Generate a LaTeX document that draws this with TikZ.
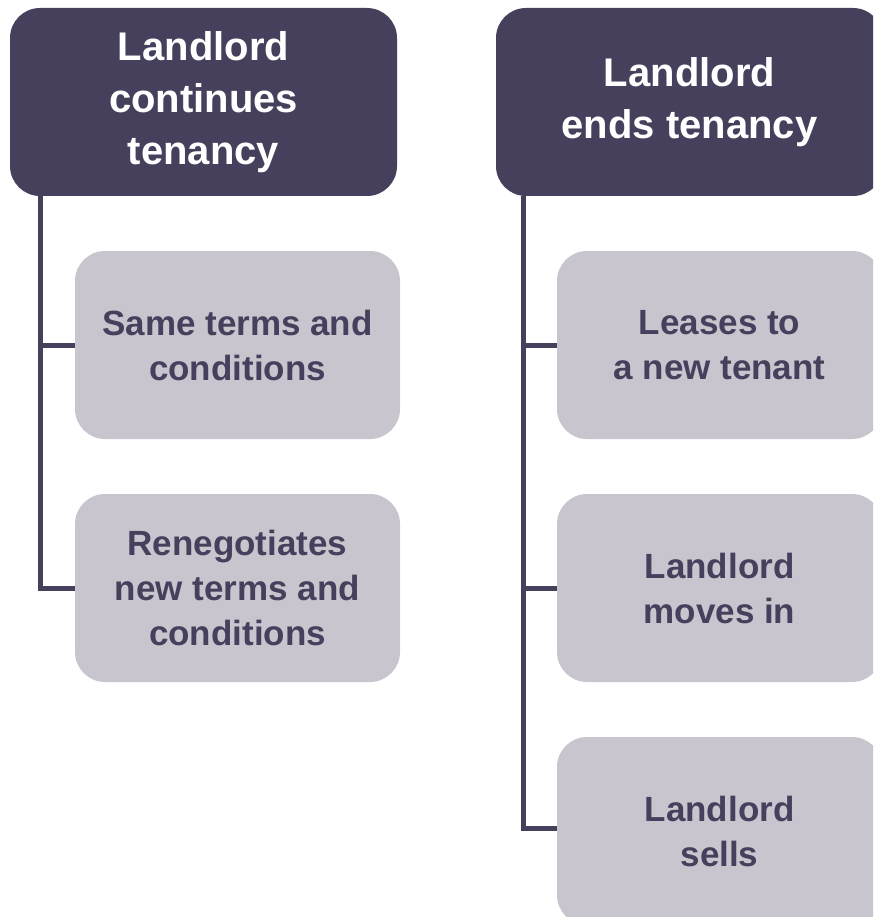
\documentclass[tikz,border=0pt]{standalone}
\usepackage{fontspec}
\setmainfont{Liberation Sans}
\usetikzlibrary{positioning}

\definecolor{plum}{HTML}{47405D}
\definecolor{lilac}{HTML}{C8C5CE}

\tikzset{
  headbox/.style={rectangle, rounded corners=30pt, fill=plum, text=white,
    minimum width=387pt, minimum height=188pt, align=center,
    font=\fontsize{40}{52}\selectfont\bfseries},
  optionbox/.style={rectangle, rounded corners=30pt, fill=lilac, text=plum,
    minimum width=325pt, minimum height=188pt, align=center,
    font=\fontsize{35}{45}\selectfont\bfseries},
  branch/.style={draw=plum, line width=5pt},
}

\begin{document}
\begin{tikzpicture}[x=1pt,y=-1pt]
    \useasboundingbox (0,0) rectangle (873,917);
    \clip (0,0) rectangle (873,917);

    % left column
    \node [headbox] (lhead) at (203.5,102) {Landlord\\continues\\tenancy};
    \node [optionbox] (lsame) at (237.5,345) {Same terms and\\conditions};
    \node [optionbox] (lreneg) at (237.5,588) {Renegotiates\\new terms and\\conditions};

    % right column
    \node [headbox] (rhead) at (689.5,102) {Landlord\\ends tenancy};
    \node [optionbox] (rlease) at (719.5,345) {Leases to\\a new tenant};
    \node [optionbox] (rmoves) at (719.5,588) {Landlord\\moves in};
    \node [optionbox] (rsells) at (719.5,831) {Landlord\\sells};

    % tree lines
    \draw [branch] ([xshift=31pt]lhead.south west) |- (lsame.west);
    \draw [branch] ([xshift=31pt]lhead.south west) |- (lreneg.west);
    \draw [branch] ([xshift=28pt]rhead.south west) |- (rlease.west);
    \draw [branch] ([xshift=28pt]rhead.south west) |- (rmoves.west);
    \draw [branch] ([xshift=28pt]rhead.south west) |- ([yshift=3pt]rsells.west);
\end{tikzpicture}
\end{document}
